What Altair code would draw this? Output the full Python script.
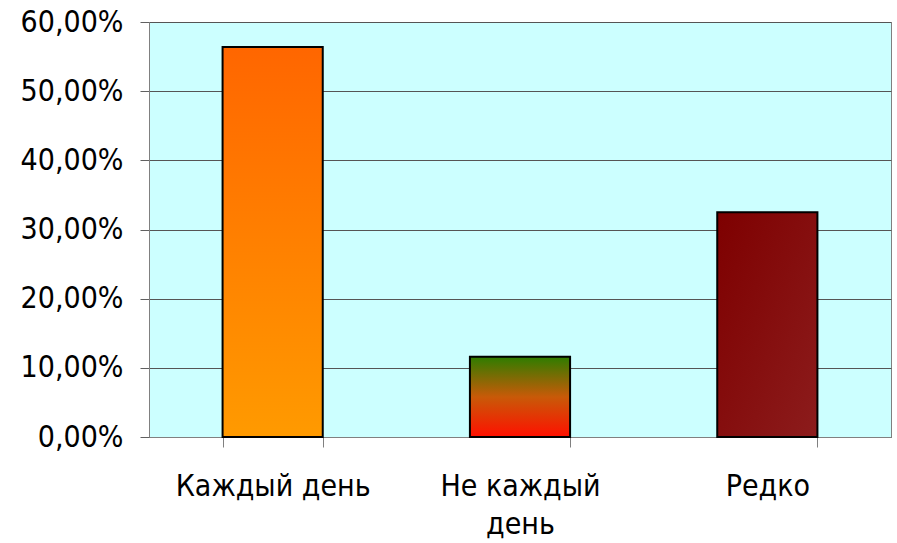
import altair as alt
import pandas as pd

categories = ["Каждый день", "Не каждый день", "Редко"]
values = [0.564, 0.116, 0.325]

df = pd.DataFrame({"cat": categories, "val": values})

gradients = [
    [("#FF9A00", 0), ("#FF6600", 1)],
    [("#FF1000", 0), ("#C85A08", 0.5), ("#2E7D00", 1)],
    [("#8C1C1C", 0), ("#7E0000", 1)],
]
coords = [
    dict(x1=0, x2=0, y1=1, y2=0),
    dict(x1=0, x2=0, y1=1, y2=0),
    dict(x1=1, x2=0, y1=1, y2=0),
]

FONT = "DejaVu Sans Condensed, DejaVu Sans"

x = alt.X(
    "cat:N",
    sort=categories,
    scale=alt.Scale(domain=categories, paddingInner=0.595, paddingOuter=0.2975),
    axis=alt.Axis(
        title=None,
        labelAngle=0,
        tickBand="extent",
        tickSize=10,
        tickColor="#808080",
        domainColor="#808080",
        labelFont=FONT,
        labelFontSize=30,
        labelColor="#000000",
        labelPadding=24,
        labelLineHeight=38,
        labelLimit=0,
        labelExpr="datum.label == 'Не каждый день' ? ['Не каждый', 'день'] : datum.label",
        grid=False,
    ),
)
y = alt.Y(
    "val:Q",
    scale=alt.Scale(domain=[0, 0.6], nice=False),
    axis=alt.Axis(
        title=None,
        values=[0, 0.1, 0.2, 0.3, 0.4, 0.5, 0.6],
        labelExpr="replace(format(datum.value, '.2%'), '.', ',')",
        tickSize=9,
        tickColor="#606060",
        domainColor="#808080",
        gridColor="#555555",
        gridWidth=1,
        labelFont=FONT,
        labelFontSize=30,
        labelColor="#000000",
        labelPadding=17,
        labelLimit=0,
    ),
)

layers = []
for i, cat in enumerate(categories):
    grad = alt.Gradient(
        gradient="linear",
        stops=[alt.GradientStop(color=c, offset=o) for c, o in gradients[i]],
        **coords[i],
    )
    layers.append(
        alt.Chart(df)
        .transform_filter(alt.datum.cat == cat)
        .mark_bar(color=grad, stroke="#000000", strokeWidth=2)
        .encode(x=x, y=y)
    )

chart = (
    alt.layer(*layers)
    .properties(
        width=742,
        height=415,
        autosize=alt.AutoSizeParams(type="none"),
        padding={"left": 149, "top": 22, "right": 6, "bottom": 106},
        background="#FFFFFF",
    )
    .configure_view(fill="#CCFFFF", stroke="#808080", strokeWidth=1)
)

chart.save("out.html", embed_options={"renderer": "svg", "actions": False})
